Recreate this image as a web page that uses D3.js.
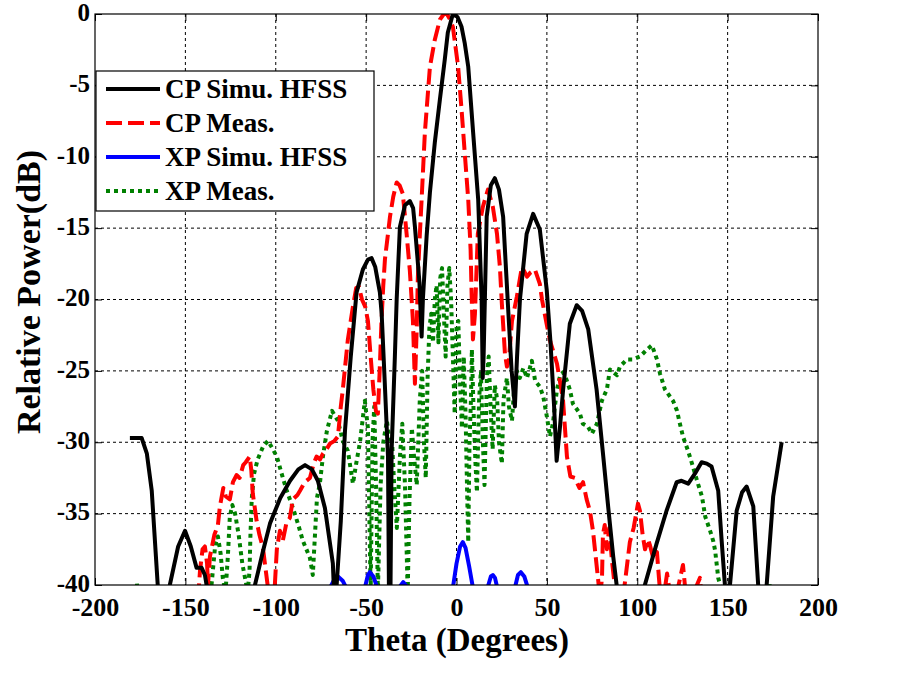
<!DOCTYPE html>
<html><head><meta charset="utf-8">
<script src="https://cdn.jsdelivr.net/npm/d3@7"></script>
<style>
body{margin:0;background:#fff;}
svg{display:block;font-family:"Liberation Serif","Times New Roman",serif;font-weight:bold;}
</style></head>
<body><svg id="chart" width="897" height="683"></svg>
<script>
const xTicks = [-200,-150,-100,-50,0,50,100,150,200];
const yTicks = [0,-5,-10,-15,-20,-25,-30,-35,-40];
const seriesNames = ["CP Simu. HFSS","CP Meas.","XP Simu. HFSS","XP Meas."];

const cpSimu = [[-180.7,-29.7],[-174.2,-29.7],[-171.3,-30.8],[-168.6,-33.4],[-165.3,-40],[-163,-44],[-160.5,-44],[-158.6,-40],[-154,-37.3],[-150.2,-36.2],[-147,-37.3],[-143.8,-38.8],[-141,-38.8],[-139.2,-39.3],[-137.6,-40.5],[-135,-44],
[-115,-44],[-111.5,-40],[-107,-37.6],[-103.2,-35.7],[-97.5,-33.9],[-92.1,-32.7],[-87.5,-31.9],[-83.8,-31.6],[-80,-31.9],[-76.7,-32.7],[-72.8,-34.6],[-68.4,-38.5],[-67.3,-42],[-66.3,-40],[-64,-35.5],[-61.7,-29.2],[-58.5,-24],[-55.3,-19.5],[-51.8,-17.9],[-49,-17.2],[-47,-17.1],[-45,-17.7],[-42.4,-19.5],[-41.4,-21],[-39.8,-25.5],[-37.9,-31],[-37.4,-40],[-37,-45],[-36.5,-40],[-35.9,-30.6],[-34.1,-24],[-33.1,-20],[-31.3,-14.9],[-28.5,-13.4],[-25.8,-13.1],[-24,-13.6],[-23,-14.9],[-20.5,-18.8],[-19.3,-22.6],[-18.6,-20],[-16.5,-15.5],[-14.7,-12.5],[-12,-9],[-9.2,-6.0],[-6.5,-3.2],[-4.8,-1.3],[-2,0],[0.5,-0.2],[2.8,-0.9],[4.5,-2],[6.5,-3.7],[9.2,-8.3],[12,-13],[13.9,-20],[14.5,-25.5],[15,-24],[16.7,-14.2],[19,-12],[21.2,-11.5],[23.5,-12.3],[25.8,-14.2],[28.6,-20.7],[30.5,-25],[32.3,-27.5],[33.5,-24],[35.1,-20],[38.8,-15.4],[42.4,-14],[46.1,-15.1],[49.9,-19.3],[52,-23],[54,-27.5],[55.4,-31.3],[57.2,-29],[59,-26.3],[62.7,-21.7],[66.5,-20.4],[69.5,-20.8],[72.9,-22.1],[77.5,-26.3],[81.2,-31],[83.9,-34.5],[86.7,-38],[88.6,-40],[90,-43],
[102,-44],[104.2,-40],[110.7,-37.1],[116.2,-34.8],[121.8,-32.8],[124.5,-32.7],[128.2,-32.9],[131.9,-32.2],[135.6,-31.4],[138.5,-31.5],[141.1,-31.7],[144.8,-33.4],[146.7,-36.9],[148.5,-40],[150,-43],[151.3,-40],[155,-34.8],[158,-33.5],[160.5,-33.1],[164.2,-34.5],[166.9,-40],[169,-44],[171.6,-40],[175.2,-33.8],[179.9,-30.0]];

const cpMeas = [[-143,-41],[-141.9,-39],[-140.5,-37.5],[-139.2,-37.3],[-138,-38.5],[-137.5,-40],[-136.4,-38],[-134,-36.5],[-132,-35.8],[-130.9,-34.5],[-129,-33.2],[-127.6,-33.8],[-125.4,-34],[-123.7,-32.8],[-121.7,-32.3],[-120,-32.5],[-118,-31.6],[-116.6,-31.4],[-114.4,-31],[-113.5,-32],[-112.7,-33.6],[-110.6,-35.5],[-109,-36.5],[-107.1,-37.4],[-105.5,-39],[-104,-40.5],[-102,-41],[-100.5,-40],[-99.4,-37.5],[-97.7,-36.2],[-96.1,-36.9],[-94,-35.6],[-92.2,-35.3],[-90.5,-34],[-88,-33.7],[-86.6,-33.4],[-84,-32.8],[-81.1,-32.5],[-79,-31.5],[-77.4,-31],[-75.5,-31.2],[-73.9,-30.8],[-72,-30.5],[-70,-30.1],[-67.5,-29.9],[-65.6,-29.6],[-64,-27.5],[-62.9,-26.3],[-60.1,-22.8],[-57.3,-20.5],[-55.5,-19.2],[-54,-19.1],[-52.3,-20],[-50.5,-20.5],[-49,-21.5],[-47.5,-24],[-46,-26.3],[-44.6,-27.8],[-43.5,-28],[-42.5,-25],[-41.5,-21.5],[-40.5,-19],[-39.6,-17.2],[-38,-15.5],[-36.8,-14.2],[-35,-12.8],[-33.1,-11.8],[-31.5,-12],[-29.7,-12.6],[-27.6,-15.4],[-25.8,-18],[-24.1,-21.5],[-23,-25.9],[-22,-22],[-21.4,-18.5],[-20.3,-15.5],[-19.3,-13],[-17.5,-8.3],[-14.7,-3.7],[-12,-1.8],[-9.2,-0.4],[-7,0],[-5.3,0],[-3.5,-0.4],[-2,-0.9],[0.9,-3.7],[2.8,-6.7],[4.6,-9.8],[6.5,-13],[7.8,-16.5],[8.4,-19.8],[9.1,-22.8],[10.2,-21],[11.8,-15.4],[14.6,-13.5],[17.4,-12.3],[20.1,-13.5],[22.4,-15.4],[24,-17.7],[25.1,-20.3],[26.8,-23.8],[27.9,-24.7],[29,-24.2],[30.7,-21.5],[33.4,-19.8],[36.2,-17.7],[39,-18.4],[41,-18.1],[43.4,-17.9],[46.1,-18.9],[47.3,-20],[50,-21.8],[52,-23],[55.6,-24.5],[58.9,-27],[60,-29],[61.1,-31],[63,-32.4],[65.5,-32.5],[68,-33.2],[70,-32.8],[72,-34],[73.8,-34.8],[75.5,-36.2],[77,-38],[78.5,-39.8],[79.3,-41],[80.5,-39.5],[81,-36.5],[82,-35.8],[83.2,-37.5],[84.5,-36],[86,-38.3],[87.5,-40],[89,-41],[92,-41],[93.5,-39.5],[95.9,-37],[98,-36],[100.4,-34.3],[101.5,-34.8],[103,-36.5],[104.3,-37.5],[106,-36.8],[107,-37.2],[109,-38.2],[110.9,-37.7],[112,-39.5],[113,-41],[115,-40.5],[116.5,-39.2],[118,-40.5],[120,-41],[122,-40.5],[125.3,-38.6],[126.5,-40.2],[128,-41.5],[134.7,-39.5],[136,-41.5]];

const xpSimu = [[-180,-43],[-75,-42],[-70,-40.2],[-67.5,-39.6],[-65.6,-39.4],[-63,-39.7],[-60.6,-40.3],[-57,-42],[-53,-42],[-50.7,-40.2],[-49,-39.3],[-47.9,-39.1],[-46,-39.4],[-43.5,-40.3],[-40,-42],[-33,-41.5],[-31.3,-40.1],[-29.5,-39.8],[-27.5,-40.1],[-25,-41.5],[-5,-42],[-2,-40.2],[0,-38.5],[2,-37.3],[3.5,-37],[5,-37.4],[7,-38.7],[9.1,-40.2],[12,-42],[15,-41.5],[17.4,-40.1],[19,-39.4],[20.1,-39.3],[21.3,-39.5],[22.4,-40.1],[25,-41.5],[30,-41.5],[32.3,-40.2],[34,-39.3],[35.6,-39.1],[37.5,-39.4],[39.5,-40.2],[43,-42],[180,-43]];

const xpMeas = [[-179,-42],[-177.8,-39.9],[-176.8,-39.9],[-175.5,-42],[-137,-42],[-134.8,-39],[-133.5,-37.2],[-132,-36.6],[-130.5,-37.8],[-129.3,-39.5],[-127.8,-40.5],[-126.5,-38],[-125.4,-35.2],[-124,-34.4],[-122.5,-35],[-120.5,-36.5],[-118.5,-38.5],[-117,-39.5],[-115.5,-40.5],[-114.5,-39],[-114,-36.5],[-113.3,-34],[-112,-32.2],[-110,-31.2],[-107,-30.3],[-104.3,-29.9],[-102,-30.4],[-99.4,-31],[-96.5,-32.3],[-93.9,-33.4],[-90.5,-34.6],[-87.5,-35.8],[-85,-36.9],[-81.1,-38.1],[-79.5,-39.3],[-77.2,-33.9],[-75.6,-32.9],[-73.9,-31],[-71.7,-29.2],[-68.9,-27.8],[-65.6,-28.5],[-62.9,-29.9],[-60.1,-30.6],[-57.3,-32.9],[-55.5,-31.5],[-53.4,-30],[-50.7,-27.1],[-49,-29],[-47.5,-40.5],[-46.5,-30],[-45.5,-27.5],[-44.5,-33],[-43.5,-40.5],[-42,-33],[-40.5,-30],[-38.5,-28.5],[-37,-30],[-35.7,-29.8],[-34.5,-33],[-33,-36],[-31.3,-31],[-30,-28.7],[-28.5,-33],[-27,-40.5],[-26,-34],[-24.7,-29],[-23.5,-31],[-22,-33],[-20.3,-27],[-19,-25],[-18,-30],[-17,-32.5],[-16,-25.5],[-15,-22],[-14,-21],[-13,-23],[-12,-20],[-11,-19],[-10,-23],[-9,-18.5],[-8,-17.8],[-7,-21],[-6,-24],[-5,-19],[-4,-17.8],[-3,-20],[-2,-24],[-1,-28],[0,-22],[1,-21.5],[2,-26],[3,-29],[4,-24],[5,-28],[5.8,-33],[6.5,-37],[7.2,-30],[8,-27],[8.5,-23.5],[9.5,-28],[10.5,-31.5],[11.3,-33.5],[12.5,-27],[13.5,-25],[14.6,-30],[15.5,-33],[16.8,-25.5],[17.8,-24],[19,-28],[20,-30.5],[21.2,-26],[22.5,-27],[23.5,-30],[25.1,-31.5],[26,-27],[27.9,-25.5],[29,-27.5],[30.7,-28.5],[32,-26],[33.4,-25],[35,-25.5],[37,-24.8],[39,-25.5],[41.7,-24.3],[43.5,-25.7],[46.1,-26.1],[48,-26.8],[50,-28.2],[51.7,-29.6],[53.3,-28.7],[55.6,-26.3],[57.2,-25.4],[58.9,-25.1],[60.8,-25.6],[62.7,-26.3],[64.4,-27.3],[68.3,-28],[69.9,-28.7],[72.7,-28.9],[74.9,-29.4],[77.7,-28.7],[80.4,-27.1],[83.2,-26.3],[84.9,-24.9],[88.8,-25.3],[90.4,-24.7],[94.3,-24.2],[97.6,-24.2],[101.5,-24.0],[105.4,-23.5],[108.1,-23.2],[110.9,-24.2],[112.6,-25.2],[115.3,-26.3],[119.8,-27.1],[122,-27.8],[123.6,-28.7],[125.3,-29.6],[128.1,-30.6],[130.3,-31.5],[133.1,-32.7],[135.8,-33.8],[137.6,-35.2],[140.3,-36.2],[142,-36.9],[143.1,-37.6],[144.8,-39.5],[147,-40.5],[149,-42],[172,-42],[173.3,-39.9],[174.3,-39.9],[175.5,-42]];

const colors = ["#000000","#ff0000","#0000ff","#008000"];
const dashes = [null,"16,6",null,"4,4"];
const seriesData = [cpSimu, cpMeas, xpSimu, xpMeas];

const svg = d3.select("#chart");
const L=95, T=14, R=818, B=585;
const x = d3.scaleLinear().domain([-200,200]).range([L,R]);
const y = d3.scaleLinear().domain([-40,0]).range([B,T]);

svg.append("rect").attr("width",897).attr("height",683).attr("fill","#fff");

// grid
const grid = svg.append("g").attr("stroke","#000").attr("stroke-width",1).attr("stroke-dasharray","3,3");
xTicks.slice(1,-1).forEach(t=>grid.append("line").attr("x1",x(t)).attr("x2",x(t)).attr("y1",T).attr("y2",B));
yTicks.slice(1,-1).forEach(t=>grid.append("line").attr("x1",L).attr("x2",R).attr("y1",y(t)).attr("y2",y(t)));

// axes
const fmt = d => String(d);
const xAxis = d3.axisBottom(x).tickValues(xTicks).tickFormat(fmt).tickSizeInner(-7).tickSizeOuter(0).tickPadding(12.5);
const yAxis = d3.axisLeft(y).tickValues(yTicks).tickFormat(fmt).tickSizeInner(-7).tickSizeOuter(0).tickPadding(5);
const gx = svg.append("g").attr("transform",`translate(0,${B})`).call(xAxis);
const gy = svg.append("g").attr("transform",`translate(${L},0)`).call(yAxis);
[gx,gy].forEach(g=>{
  g.select(".domain").remove();
  g.selectAll("line").attr("stroke","#000");
  g.selectAll("text").attr("font-family","Liberation Serif, serif").attr("font-weight","bold").attr("fill","#000");
});
gx.selectAll("text").attr("font-size",26);
gy.selectAll("text").attr("font-size",25).attr("dy","0.25em");
// top/right ticks
const gt = svg.append("g").attr("transform",`translate(0,${T})`).call(d3.axisTop(x).tickValues(xTicks).tickSizeInner(-7).tickSizeOuter(0).tickFormat(""));
const gr = svg.append("g").attr("transform",`translate(${R},0)`).call(d3.axisRight(y).tickValues(yTicks).tickSizeInner(-7).tickSizeOuter(0).tickFormat(""));
[gt,gr].forEach(g=>{g.select(".domain").remove();g.selectAll("line").attr("stroke","#000");});

// clip
svg.append("clipPath").attr("id","clip").append("rect").attr("x",L).attr("y",T).attr("width",R-L).attr("height",B-T);
const line = d3.line().x(d=>x(d[0])).y(d=>y(d[1]));
const plot = svg.append("g").attr("clip-path","url(#clip)");
const order = [3,2,1,0];
order.forEach(i=>{
  plot.append("path").datum(seriesData[i]).attr("d",line)
    .attr("fill","none").attr("stroke",colors[i]).attr("stroke-width",4)
    .attr("stroke-linejoin","round")
    .attr("stroke-dasharray",dashes[i]);
});

// box
svg.append("rect").attr("x",L).attr("y",T).attr("width",R-L).attr("height",B-T).attr("fill","none").attr("stroke","#000").attr("stroke-width",1.2);

// legend
const lg = svg.append("g");
lg.append("rect").attr("x",96).attr("y",71).attr("width",278).attr("height",140).attr("fill","#fff").attr("stroke","#000").attr("stroke-width",1.2);
seriesNames.forEach((n,i)=>{
  const yy = 89 + i*34;
  lg.append("line").attr("x1",106).attr("x2",160).attr("y1",yy).attr("y2",yy)
    .attr("stroke",colors[i]).attr("stroke-width",4).attr("stroke-dasharray",dashes[i]);
  lg.append("text").attr("x",165).attr("y",yy+9).attr("font-size",27).attr("fill","#000").text(n);
});

// axis titles
svg.append("text").attr("x",457).attr("y",651).attr("text-anchor","middle").attr("font-size",33).text("Theta (Degrees)");
svg.append("text").attr("transform","translate(40,292) rotate(-90)").attr("text-anchor","middle").attr("font-size",34).text("Relative Power(dB)");
</script></body></html>
